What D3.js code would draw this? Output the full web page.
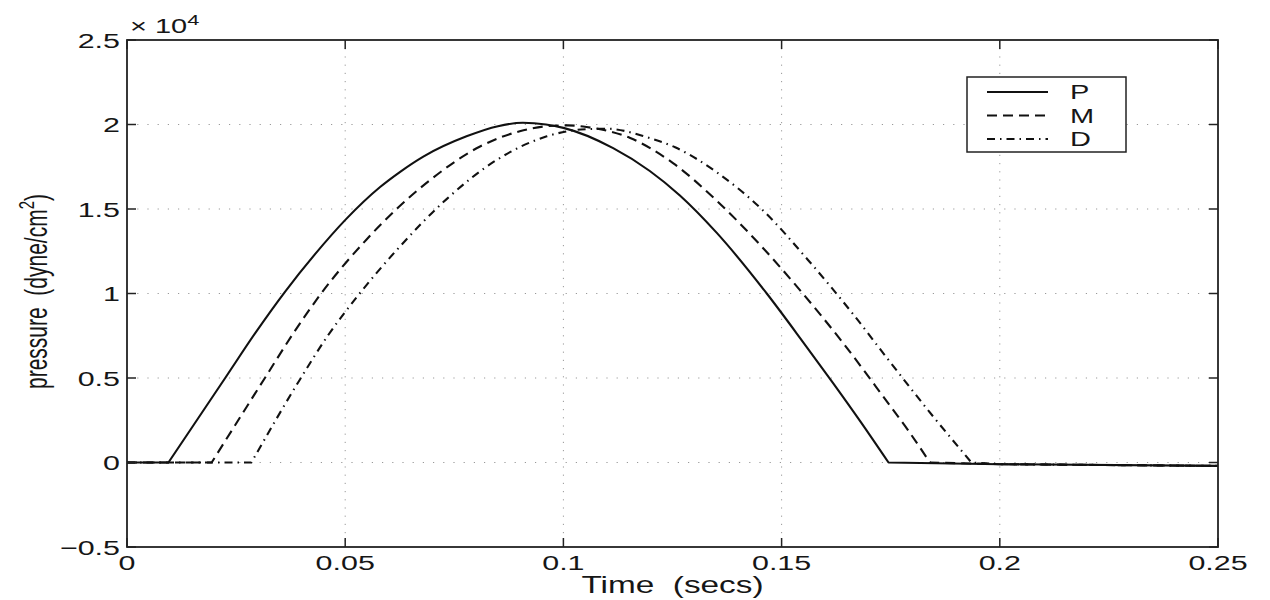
<!DOCTYPE html>
<html>
<head>
<meta charset="utf-8">
<script src="https://cdn.jsdelivr.net/npm/d3@7"></script>
<style>
  html, body { margin: 0; padding: 0; background: #fff; }
  svg { display: block; }
  text { font-family: "Liberation Sans", Arial, Helvetica, sans-serif; fill: #161616; }
</style>
</head>
<body>
<svg id="chart" width="1270" height="600"></svg>
<script>
// ---- data (pressure in dyne/cm^2, time in seconds) ----
const xTicks = [0, 0.05, 0.1, 0.15, 0.2, 0.25];
const xTickLabels = ["0", "0.05", "0.1", "0.15", "0.2", "0.25"];
const yTicks = [-5000, 0, 5000, 10000, 15000, 20000, 25000];
const yTickLabels = ["\u22120.5", "0", "0.5", "1", "1.5", "2", "2.5"];
const seriesNames = ["P", "M", "D"];

// each series: [0, start corner, ... hump ..., end corner, 0.2, 0.25]
const timeP = [0, 0.0095, 0.0225, 0.0295, 0.0362, 0.043, 0.0502, 0.058, 0.0626, 0.0679, 0.0778, 0.085, 0.0907, 0.096, 0.1, 0.1114, 0.1198, 0.1267, 0.1351, 0.1466, 0.155, 0.1618, 0.168, 0.1745, 0.2, 0.25];
const pressP = [0, 0, 5000, 7700, 10100, 12300, 14400, 16300, 17200, 18100, 19300, 19900, 20100, 20000, 19800, 18600, 17250, 15800, 13600, 10000, 7100, 4700, 2450, 0, -100, -200];

const timeM = [0, 0.0194, 0.0316, 0.038, 0.0442, 0.0549, 0.0622, 0.0694, 0.0809, 0.09, 0.0962, 0.101, 0.1053, 0.1153, 0.1252, 0.1351, 0.145, 0.1542, 0.164, 0.1733, 0.179, 0.184, 0.2, 0.25];
const pressM = [0, 0, 5000, 7600, 9900, 13200, 15100, 16700, 18700, 19600, 19900, 19950, 19850, 19200, 17700, 15500, 12900, 10200, 7100, 3900, 1900, 0, -100, -200];

const timeD = [0, 0.0285, 0.0396, 0.046, 0.053, 0.0626, 0.0733, 0.0847, 0.0962, 0.104, 0.11, 0.1191, 0.1256, 0.135, 0.1458, 0.156, 0.1657, 0.175, 0.1848, 0.1935, 0.2, 0.25];
const pressD = [0, 0, 4900, 7500, 9900, 12800, 15600, 17900, 19300, 19700, 19750, 19250, 18650, 17200, 14900, 12000, 9000, 5900, 2700, 0, -100, -200];

// ---- layout ----
const L = 127, R = 1218, T = 40, B = 547;
const SX = 1.45; // horizontal stretch of the glyphs in the reference
const svg = d3.select("#chart");
const x = d3.scaleLinear().domain([0, 0.25]).range([L, R]);
const y = d3.scaleLinear().domain([-5000, 25000]).range([B, T]);

const series = [
  { name: seriesNames[0], t: timeP, v: pressP, dash: null },
  { name: seriesNames[1], t: timeM, v: pressM, dash: "10,6" },
  { name: seriesNames[2], t: timeD, v: pressD, dash: "8,5,1.5,5" }
];

// grid
const grid = svg.append("g");
xTicks.slice(1, -1).forEach(t => {
  grid.append("line").attr("x1", x(t)).attr("x2", x(t)).attr("y1", T).attr("y2", B)
    .attr("stroke", "#999").attr("stroke-width", 1).attr("stroke-dasharray", "1.2,7");
});
yTicks.slice(1, -1).forEach(v => {
  grid.append("line").attr("x1", L).attr("x2", R).attr("y1", y(v)).attr("y2", y(v))
    .attr("stroke", "#999").attr("stroke-width", 1).attr("stroke-dasharray", "1.2,9");
});

// curves: straight flat parts, smooth hump between the corners
const hump = d3.line().x(d => x(d[0])).y(d => y(d[1])).curve(d3.curveMonotoneX);
const flat = d3.line().x(d => x(d[0])).y(d => y(d[1]));
series.forEach(s => {
  const pts = s.t.map((t, i) => [t, s.v[i]]);
  const head = pts.slice(0, 2);
  const mid = pts.slice(1, pts.length - 2);
  const tail = pts.slice(pts.length - 3);
  const d = flat(head) + hump(mid).replace(/^M/, "L") + flat(tail).replace(/^M/, "L");
  svg.append("path").attr("d", d).attr("fill", "none")
    .attr("stroke", "#111").attr("stroke-width", 2.1).attr("stroke-linejoin", "round")
    .attr("stroke-dasharray", s.dash);
});

// axes box
svg.append("rect").attr("x", L).attr("y", T).attr("width", R - L).attr("height", B - T)
  .attr("fill", "none").attr("stroke", "#222").attr("stroke-width", 1.8);

// ticks (inward, all four sides)
const tk = 9;
const ticks = svg.append("g").attr("stroke", "#222").attr("stroke-width", 1.5);
xTicks.forEach(t => {
  ticks.append("line").attr("x1", x(t)).attr("x2", x(t)).attr("y1", B).attr("y2", B - tk);
  ticks.append("line").attr("x1", x(t)).attr("x2", x(t)).attr("y1", T).attr("y2", T + tk);
});
yTicks.forEach(v => {
  ticks.append("line").attr("x1", L).attr("x2", L + tk).attr("y1", y(v)).attr("y2", y(v));
  ticks.append("line").attr("x1", R).attr("x2", R - tk).attr("y1", y(v)).attr("y2", y(v));
});

// tick labels
xTicks.forEach((t, i) => {
  svg.append("text").attr("transform", `translate(${x(t)},570) scale(${SX},1)`)
    .attr("text-anchor", "middle").attr("font-size", 21).text(xTickLabels[i]);
});
yTicks.forEach((v, i) => {
  svg.append("text").attr("transform", `translate(120,${y(v) + 7.5}) scale(${SX},1)`)
    .attr("text-anchor", "end").attr("font-size", 21).text(yTickLabels[i]);
});

// exponent label
const ex = svg.append("text").attr("transform", `translate(130,33) scale(${SX},1)`)
  .attr("font-size", 20);
ex.append("tspan").text("\u00d7 10");
ex.append("tspan").attr("font-size", 15).attr("dy", -8).text("4");

// axis labels
svg.append("text").attr("transform", `translate(${(L + R) / 2},593) scale(${SX},1)`)
  .attr("text-anchor", "middle").attr("font-size", 23).text("Time\u00a0\u00a0(secs)");
const yl = svg.append("text")
  .attr("transform", `translate(47,${(T + B) / 2 - 2}) scale(${SX},1) rotate(-90)`)
  .attr("text-anchor", "middle").attr("font-size", 21);
yl.append("tspan").text("pressure\u00a0\u00a0(dyne/cm");
yl.append("tspan").attr("font-size", 15).attr("dy", -9).text("2");
yl.append("tspan").attr("dy", 9).text(")");

// legend
const lg = svg.append("g");
lg.append("rect").attr("x", 967).attr("y", 77).attr("width", 159).attr("height", 75)
  .attr("fill", "#fff").attr("stroke", "#222").attr("stroke-width", 1.5);
series.forEach((s, i) => {
  const ly = 92 + i * 23.5;
  lg.append("line").attr("x1", 987).attr("x2", 1048).attr("y1", ly).attr("y2", ly)
    .attr("stroke", "#111").attr("stroke-width", 2).attr("stroke-dasharray", s.dash);
  lg.append("text").attr("transform", `translate(1070,${ly + 7}) scale(${SX},1)`)
    .attr("font-size", 20).text(s.name);
});
</script>
</body>
</html>
